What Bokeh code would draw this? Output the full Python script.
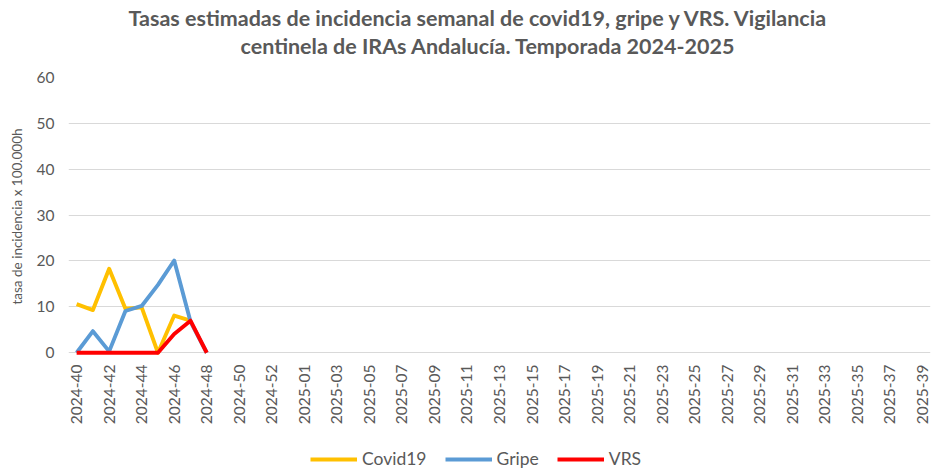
from bokeh.plotting import figure
from bokeh.layouts import column
from bokeh.models import Range1d, Legend, LegendItem, FixedTicker, Title
from bokeh.embed import file_html
from bokeh.resources import INLINE
import math

# Categories: epidemiological weeks of the 2024-2025 season
weeks = [f"2024-{w:02d}" for w in range(40, 54)] + [f"2025-{w:02d}" for w in range(1, 40)]

# Weekly incidence rates (per 100.000 h)
covid19 = [10.6, 9.3, 18.3, 9.6, 9.9, 0.0, 8.1, 7.0]
gripe = [0.0, 4.7, 0.3, 9.1, 10.2, 14.8, 20.1, 6.8, 0.0]
vrs = [0.0, 0.0, 0.0, 0.0, 0.0, 0.0, 4.1, 7.0, 0.0]

series_names = ["Covid19", "Gripe", "VRS"]
series_colors = ["#FFC000", "#5B9BD5", "#FF0000"]

y_ticks = [0, 10, 20, 30, 40, 50, 60]
title_lines = [
    "Tasas estimadas de incidencia semanal de covid19, gripe y VRS. Vigilancia",
    "centinela de IRAs Andalucía. Temporada 2024-2025",
]

TEXT = "#595959"
FONT = "Lato"
LW = 3.9

p = figure(
    x_range=Range1d(-0.5, len(weeks) - 0.5),
    y_range=Range1d(-0.6, 60),
    frame_width=862, frame_height=278,
    min_border_left=68, min_border_right=1, min_border_top=77, min_border_bottom=94,
    output_backend="svg", toolbar_location=None,
    outline_line_color=None,
)

# Two-line title (last added is the top line)
t2 = Title(text=title_lines[1], align="left", offset=172, standoff=37,
           text_font=FONT, text_font_style="bold", text_font_size="21.5px", text_color=TEXT)
t1 = Title(text=title_lines[0], align="left", offset=60, standoff=0,
           text_font=FONT, text_font_style="bold", text_font_size="21.5px", text_color=TEXT)
try:
    t1.standoff = -36
except Exception:
    t1.standoff = 0
p.add_layout(t2, "above")
p.add_layout(t1, "above")

def idx(series):
    return [weeks.index(w) for w in weeks[:len(series)]]

for data, color in zip([covid19, gripe, vrs], series_colors):
    p.line(idx(data), data, line_color=color, line_width=LW, line_join="round")

# Axes
p.yaxis.ticker = FixedTicker(ticks=y_ticks)
p.yaxis.axis_line_color = None
p.yaxis.major_tick_line_color = None
p.yaxis.minor_tick_line_color = None
p.yaxis.major_tick_out = 0
p.yaxis.major_tick_in = 0
p.yaxis.major_label_standoff = 14
p.yaxis.major_label_text_font = FONT
p.yaxis.major_label_text_font_size = "15.5px"
p.yaxis.major_label_text_color = TEXT
p.yaxis.axis_label = "tasa de incidencia x 100.000h"
p.yaxis.axis_label_text_font = FONT
p.yaxis.axis_label_text_font_style = "normal"
p.yaxis.axis_label_text_font_size = "13.5px"
p.yaxis.axis_label_text_color = TEXT
p.yaxis.axis_label_standoff = 9

even = list(range(0, len(weeks), 2))
p.xaxis.ticker = FixedTicker(ticks=even)
p.xaxis.major_label_overrides = {i: weeks[i] for i in even}
p.xaxis.axis_line_color = None
p.xaxis.major_tick_line_color = None
p.xaxis.minor_tick_line_color = None
p.xaxis.major_tick_out = 0
p.xaxis.major_tick_in = 0
p.xaxis.major_label_orientation = math.pi / 2
p.xaxis.major_label_standoff = 9
p.xaxis.major_label_text_font = FONT
p.xaxis.major_label_text_font_size = "15.5px"
p.xaxis.major_label_text_color = TEXT

p.xgrid.grid_line_color = None
p.ygrid.grid_line_color = "#D9D9D9"
p.ygrid.grid_line_width = 1.2
p.ygrid.ticker = FixedTicker(ticks=y_ticks)

# Legend strip below the chart (holds legend-only proxy renderers, outside its view)
lp = figure(
    width=931, height=20,
    x_range=Range1d(0, 1), y_range=Range1d(0, 1),
    min_border=0, min_border_left=0, min_border_right=0, min_border_top=0, min_border_bottom=0,
    x_axis_type=None, y_axis_type=None,
    output_backend="svg", toolbar_location=None,
    outline_line_color=None,
)
lp.grid.visible = False
items = []
for name, color in zip(series_names, series_colors):
    r = lp.line([-2, -1], [-2, -1], line_color=color, line_width=LW)
    items.append(LegendItem(label=name, renderers=[r]))

legend = Legend(
    items=items,
    location=(242, 0),
    orientation="horizontal",
    padding=0, margin=0, spacing=18,
    glyph_width=47, glyph_height=20, label_standoff=5,
    label_text_font=FONT, label_text_font_size="17.5px", label_text_color=TEXT,
    border_line_color=None, background_fill_alpha=0,
)
lp.add_layout(legend)

layout = column(p, lp, spacing=0)

open("out.html", "w").write(file_html(layout, INLINE))
